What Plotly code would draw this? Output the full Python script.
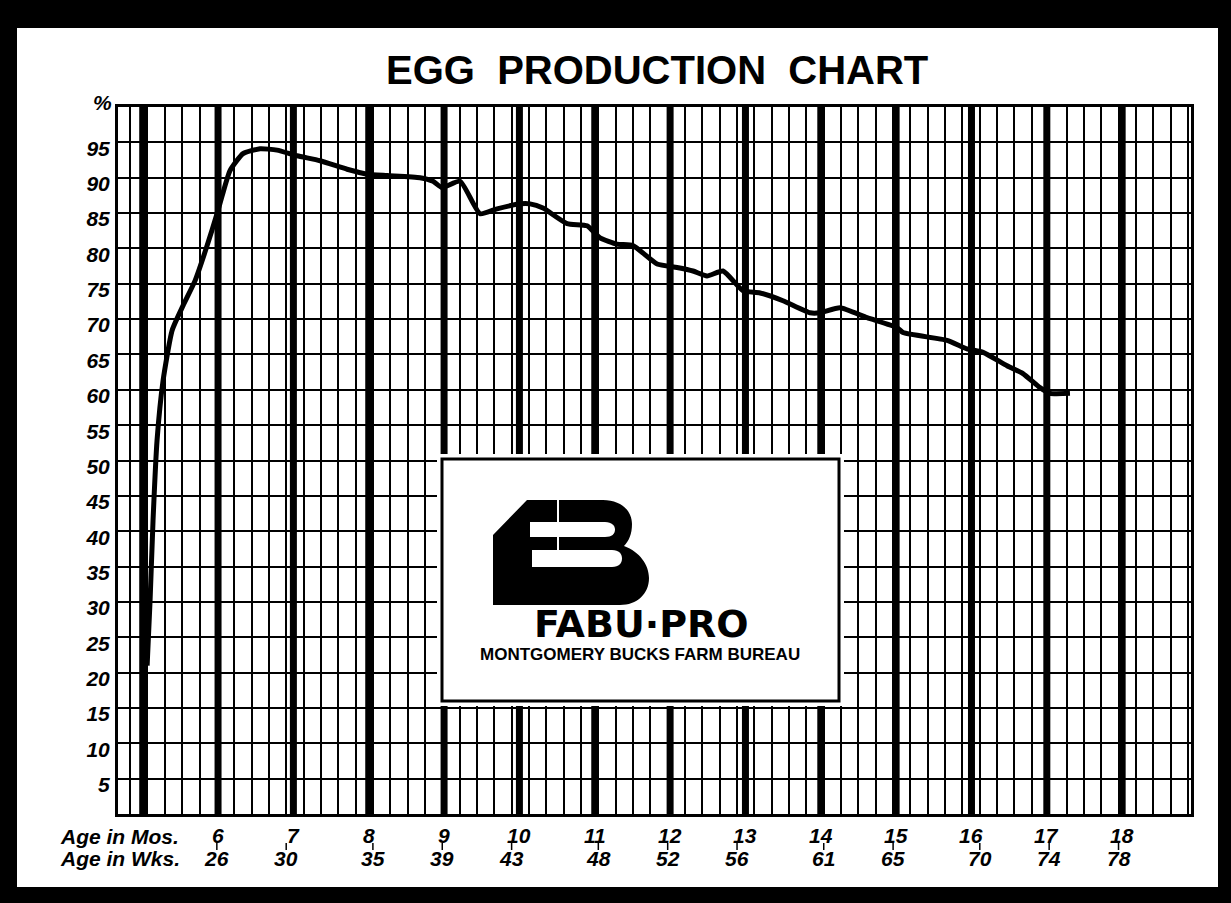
import plotly.graph_objects as go

# ---------------- data ----------------
age_weeks = [21.98, 22.15, 22.32, 22.55, 22.90, 23.42, 24.05, 24.74, 25.44, 26.01,
             26.30, 26.76, 27.51, 28.49, 29.47, 30.63, 31.95, 33.51, 34.66, 35.82,
             37.72, 38.47, 38.99, 40.03, 41.18, 42.16, 43.49, 44.06, 44.81, 46.20,
             47.35, 48.10, 49.08, 50.00, 51.39, 52.54, 53.46, 54.27, 55.19, 56.35,
             57.33, 58.65, 60.21, 60.79, 61.94, 63.50, 65.23, 65.57, 68.11, 69.26,
             70.19, 71.57, 72.49, 73.47, 74.05, 75.20]
production_pct = [21.0, 30.2, 41.5, 52.8, 61.3, 68.4, 71.9, 75.4, 80.4, 84.9,
                  87.4, 91.0, 93.4, 94.1, 93.9, 93.1, 92.4, 91.2, 90.5, 90.3,
                  90.0, 89.5, 88.6, 89.5, 84.9, 85.6, 86.3, 86.3, 85.7, 83.5,
                  83.2, 81.5, 80.6, 80.4, 77.8, 77.3, 76.8, 76.1, 76.8, 74.0,
                  73.7, 72.6, 70.9, 70.9, 71.6, 70.2, 68.8, 68.1, 67.0, 65.8,
                  65.3, 63.4, 62.3, 60.3, 59.5, 59.5]

month_labels = ["6", "7", "8", "9", "10", "11", "12", "13", "14", "15", "16", "17", "18"]
month_values = [6, 7, 8, 9, 10, 11, 12, 13, 14, 15, 16, 17, 18]
week_labels = ["26", "30", "35", "39", "43", "48", "52", "56", "61", "65", "70", "74", "78"]
week_values = [26, 30, 35, 39, 43, 48, 52, 56, 61, 65, 70, 74, 78]
thick_months = [5, 6, 7, 8, 9, 10, 11, 12, 13, 14, 15, 16, 17, 18]
WEEKS_PER_MONTH = 4.345
y_ticks = [5, 10, 15, 20, 25, 30, 35, 40, 45, 50, 55, 60, 65, 70, 75, 80, 85, 90, 95]

# ---------------- layout geometry (pixels) ----------------
W, H = 1231, 903
L, R, T, B = 118, 1191, 107, 814
X_RANGE = [20.30, 82.18]


def px(xp):
    return (xp - L) / (R - L)


def py(yp):
    return (B - yp) / (B - T)


FONT = "Liberation Sans, Arial, sans-serif"
NARROW = "Liberation Sans Narrow, Arial Narrow, Liberation Sans, sans-serif"
LBL = dict(family=FONT, size=21, color="black", weight="bold", style="italic")

fig = go.Figure()
fig.add_trace(go.Scatter(
    x=age_weeks, y=production_pct, mode="lines",
    line=dict(color="black", width=5, shape="spline", smoothing=0.5),
    hoverinfo="skip", showlegend=False))

shapes = []
# white page inside black frame
shapes.append(dict(type="rect", xref="paper", yref="paper", layer="below",
                   x0=px(17), x1=px(1218), y0=py(887), y1=py(28),
                   fillcolor="white", line=dict(width=0)))
# thick month lines
for m in thick_months:
    xv = m * WEEKS_PER_MONTH
    shapes.append(dict(type="line", xref="x", yref="y", layer="between",
                       x0=xv, x1=xv, y0=0, y1=100,
                       line=dict(color="black", width=7)))
# small connector ticks between month and week labels
for wv in week_values:
    shapes.append(dict(type="line", xref="x", yref="paper",
                       x0=wv, x1=wv, y0=py(843), y1=py(850),
                       line=dict(color="black", width=1.5)))
# logo box
shapes.append(dict(type="rect", xref="paper", yref="paper", layer="above",
                   x0=px(437), x1=px(844), y0=py(706), y1=py(454),
                   fillcolor="white", line=dict(width=0)))
shapes.append(dict(type="rect", xref="paper", yref="paper", layer="above",
                   x0=px(442), x1=px(839), y0=py(701), y1=py(459),
                   fillcolor="white", line=dict(color="black", width=3)))


def path_from(cmds):
    out = []
    for c in cmds:
        if isinstance(c, str):
            out.append(c)
        else:
            out.append(f"{px(c[0]):.5f},{py(c[1]):.5f}")
    return " ".join(out)


logo_outer = path_from(["M", (493, 535), "L", (527, 500), "L", (603, 500),
                        "C", (620, 500), (632, 510), (632, 524),
                        "C", (632, 534), (629, 541), (624, 546),
                        "C", (640, 552), (649, 565), (649, 578),
                        "C", (649, 594), (637, 605), (620, 605),
                        "L", (493, 605), "Z"])
shapes.append(dict(type="path", xref="paper", yref="paper", layer="above",
                   path=logo_outer, fillcolor="black", line=dict(width=0)))
counter_up = path_from(["M", (530, 522), "L", (605, 522),
                        "C", (612, 522), (615, 526), (615, 529.5),
                        "C", (615, 534), (612, 537), (605, 537),
                        "L", (530, 537), "Z"])
counter_lo = path_from(["M", (532, 550), "L", (612, 550),
                        "C", (619, 550), (622, 554), (622, 558.5),
                        "C", (622, 563), (619, 567), (612, 567),
                        "L", (532, 567), "Z"])
for pth in (counter_up, counter_lo):
    shapes.append(dict(type="path", xref="paper", yref="paper", layer="above",
                       path=pth, fillcolor="white", line=dict(width=0)))
shapes.append(dict(type="line", xref="paper", yref="paper", layer="above",
                   x0=px(558), x1=px(558), y0=py(500), y1=py(522),
                   line=dict(color="white", width=2)))
shapes.append(dict(type="line", xref="paper", yref="paper", layer="above",
                   x0=px(558), x1=px(558), y0=py(537), y1=py(550),
                   line=dict(color="white", width=2)))

annotations = []


def ann(text, x, y, font, xref="paper", xanchor="center"):
    annotations.append(dict(text=text, xref=xref, yref="paper", x=x, y=y,
                            xanchor=xanchor, yanchor="middle", showarrow=False, font=font))


ann("EGG  PRODUCTION  CHART", px(657), py(70),
    dict(family=NARROW, size=40, color="black", weight="bold"))
ann("%", px(114), py(102), LBL, xanchor="right")
ann("Age in Mos.", px(58), py(836), LBL, xanchor="left")
ann("Age in Wks.", px(58), py(858), LBL, xanchor="left")
for lab, mv in zip(month_labels, month_values):
    ann(lab, mv * WEEKS_PER_MONTH, py(835), LBL, xref="x")
for lab, wv in zip(week_labels, week_values):
    ann(lab, wv, py(858), LBL, xref="x")
ann("FABU·PRO", px(641), py(624),
    dict(family="DejaVu Sans, sans-serif", size=38, color="black", weight="bold"))
ann("MONTGOMERY BUCKS FARM BUREAU", px(640), py(654),
    dict(family=NARROW, size=17, color="black", weight="bold"))

fig.update_layout(
    width=W, height=H,
    margin=dict(l=L, r=W - R, t=T, b=H - B, pad=0),
    paper_bgcolor="black", plot_bgcolor="white",
    showlegend=False,
    shapes=shapes, annotations=annotations,
    xaxis=dict(range=X_RANGE, showgrid=True, gridcolor="black", gridwidth=2,
               tick0=21, dtick=1, showticklabels=False, ticks="", zeroline=False,
               showline=True, linecolor="black", linewidth=3, mirror=True, fixedrange=True),
    yaxis=dict(range=[0, 100], showgrid=True, gridcolor="black", gridwidth=2,
               tickvals=y_ticks, ticktext=[str(v) for v in y_ticks], ticks="",
               tickfont=LBL, ticklabelshift=6, ticklabelstandoff=1,
               zeroline=False, showline=True, linecolor="black", linewidth=3, mirror=True,
               fixedrange=True),
)

fig.write_html("out.html", config={"displayModeBar": False},
               post_script="document.body.style.margin='0px';")
